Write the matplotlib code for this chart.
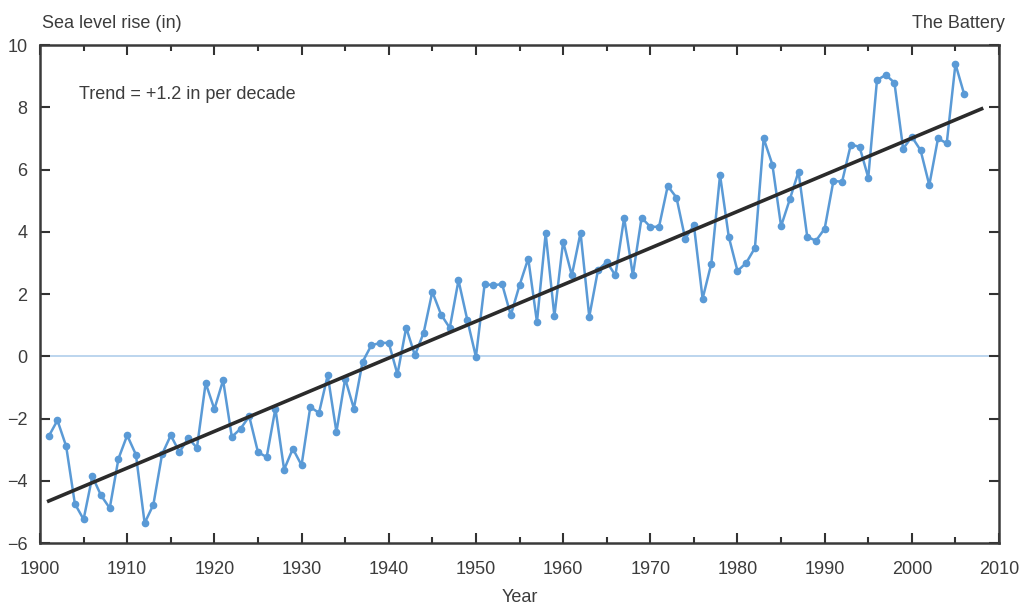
import matplotlib
matplotlib.use("Agg")
import matplotlib.pyplot as plt
from matplotlib.ticker import MultipleLocator

years = list(range(1901, 2007))
sea_level = [
    -2.57, -2.06, -2.89, -4.74, -5.24, -3.86, -4.47, -4.88, -3.29, -2.54,  # 1901-1910
    -3.16, -5.36, -4.77, -3.15, -2.54, -3.08, -2.63, -2.94, -0.86, -1.70,  # 1911-1920
    -0.77, -2.59, -2.33, -1.93, -3.08, -3.24, -1.68, -3.64, -2.97, -3.50,  # 1921-1930
    -1.63, -1.82, -0.61, -2.43, -0.72, -1.68, -0.18, 0.35, 0.43, 0.43,     # 1931-1940
    -0.58, 0.92, 0.03, 0.75, 2.07, 1.34, 0.91, 2.44, 1.18, -0.02,         # 1941-1950
    2.32, 2.28, 2.32, 1.32, 2.28, 3.14, 1.10, 3.95, 1.29, 3.68,           # 1951-1960
    2.60, 3.97, 1.27, 2.77, 3.03, 2.60, 4.45, 2.60, 4.45, 4.16,           # 1961-1970
    4.16, 5.47, 5.10, 3.78, 4.21, 1.85, 2.98, 5.82, 3.84, 2.74,           # 1971-1980
    3.00, 3.48, 7.00, 6.16, 4.18, 5.04, 5.93, 3.84, 3.71, 4.10,           # 1981-1990
    5.63, 5.61, 6.80, 6.73, 5.74, 8.87, 9.04, 8.79, 6.67, 7.05,           # 1991-2000
    6.62, 5.50, 7.00, 6.84, 9.39, 8.42,                                   # 2001-2006
]
trend_years = [1901, 2008]
trend_values = [-4.65, 7.95]

x_ticks = list(range(1900, 2011, 10))
y_ticks = list(range(-6, 11, 2))

plt.rcParams['font.family'] = ['Liberation Sans Narrow', 'Liberation Sans', 'DejaVu Sans']

fig = plt.figure(figsize=(10.31, 6.14), dpi=100)
ax = fig.add_axes([0.0388, 0.1156, 0.9302, 0.8111])

blue = '#5a9ad6'
txt = '#3c3c3c'
ax.axhline(0, color='#bcd5ee', lw=1.4, zorder=1)
ax.plot(years, sea_level, color=blue, lw=1.8, marker='o', ms=4.5, mfc=blue, mec=blue, zorder=2)
ax.plot(trend_years, trend_values, color='#2b2b2b', lw=2.6, zorder=3)

ax.set_xlim(1900, 2010)
ax.set_ylim(-6, 10)
ax.set_xticks(x_ticks)
ax.set_yticks(y_ticks)
ax.xaxis.set_minor_locator(MultipleLocator(5))
ax.tick_params(which='both', direction='in', top=True, right=True, colors='#333333',
               labelcolor=txt, labelsize=13)
ax.tick_params(which='major', length=7, width=1.5)
ax.tick_params(which='minor', length=4, width=1.5)
ax.tick_params(axis='x', pad=13)
ax.tick_params(axis='y', pad=9)
for s in ax.spines.values():
    s.set_linewidth(1.8)
    s.set_color('#3a3a3a')

ax.set_yticklabels([str(v).replace('-', '\u2212') for v in y_ticks])

ax.set_xlabel('Year', fontsize=13, color=txt, labelpad=8)
fig.text(0.041, 0.962, 'Sea level rise (in)', fontsize=13, color=txt, va='center', ha='left')
fig.text(0.975, 0.962, 'The Battery', fontsize=13, color=txt, va='center', ha='right')
ax.text(1904.5, 8.4, 'Trend = +1.2 in per decade', fontsize=13, color=txt, va='center', ha='left')

fig.savefig('out.png', dpi=100, facecolor='white')
